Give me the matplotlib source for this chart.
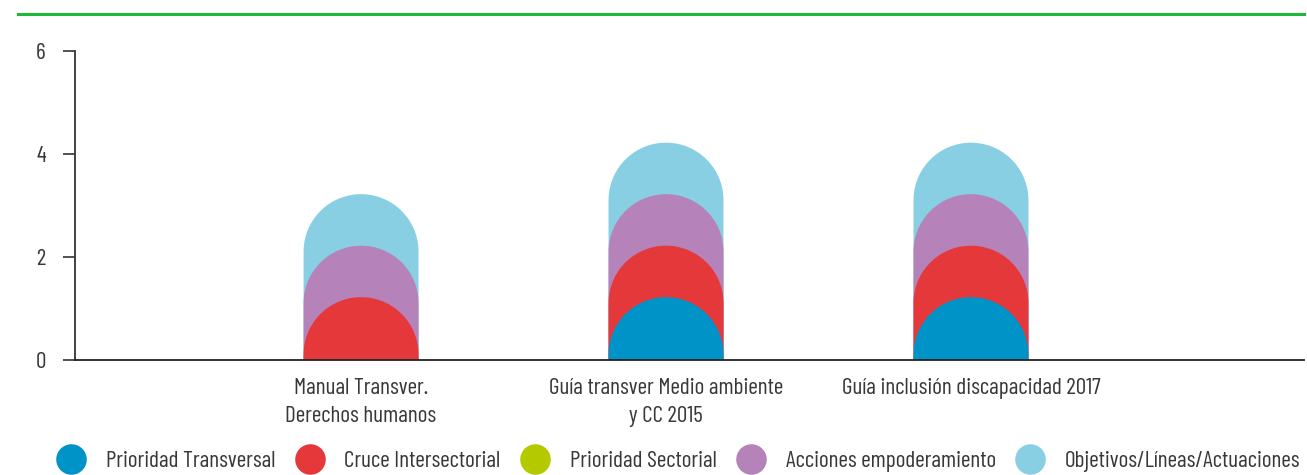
#!/usr/bin/python
# coding: utf-8
import numpy as np
import matplotlib
matplotlib.use("Agg")
import matplotlib.pyplot as plt
from matplotlib.patches import Polygon
from matplotlib.lines import Line2D

# categories and stacked values (one list per series)
categories = ["Manual Transver.\nDerechos humanos",
              "Guía transver Medio ambiente\ny CC 2015",
              "Guía inclusión discapacidad 2017"]
series_names = ["Prioridad Transversal", "Cruce Intersectorial", "Prioridad Sectorial",
                "Acciones empoderamiento", "Objetivos/Líneas/Actuaciones"]
prioridad_transversal = [0, 1, 1]
cruce_intersectorial = [1, 1, 1]
prioridad_sectorial = [0, 0, 0]
acciones_empoderamiento = [1, 1, 1]
objetivos_lineas = [1, 1, 1]
colors = ["#0093c7", "#e5383b", "#b5c900", "#b583b9", "#89cfe4"]

yticks = [0, 2, 4, 6]

plt.rcParams['font.family'] = ['Barlow Condensed', 'DejaVu Sans']
plt.rcParams['font.weight'] = 400
txt = "#383838"
fs = 16.8

fig = plt.figure(figsize=(13.07, 4.75), dpi=100)
ax = fig.add_axes([75/1307, 115/475, (1304-75)/1307, 309/475])

xmin, xmax = -0.938, 3.092
ymin, ymax = 0, 6
ax.set_xlim(xmin, xmax)
ax.set_ylim(ymin, ymax)

bar_w = 0.377
cap_extra = 0.22   # rounded cap sticks out a bit above the value

# pixel scale so the caps come out as real half circles
ax_w_px = (1304 - 75)
ax_h_px = 309
px_x = ax_w_px / (xmax - xmin)
px_y = ax_h_px / (ymax - ymin)
r_y = (bar_w / 2) * px_x / px_y

data = np.array([prioridad_transversal, cruce_intersectorial, prioridad_sectorial,
                 acciones_empoderamiento, objetivos_lineas], dtype=float)
cum = np.cumsum(data, axis=0)

t = np.linspace(0, np.pi, 80)
for i in range(len(categories)):
    # tallest first so the lower segments sit on top
    for s in range(len(series_names) - 1, -1, -1):
        if data[s, i] == 0:
            continue
        top = cum[s, i] + cap_extra
        yc = top - r_y
        xs = i + (bar_w / 2) * np.cos(t)
        ys = np.maximum(yc + r_y * np.sin(t), 0)
        pts = np.column_stack([np.r_[i + bar_w / 2, xs, i - bar_w / 2],
                               np.r_[0, ys, 0]])
        ax.add_patch(Polygon(pts, closed=True, facecolor=colors[s],
                             edgecolor='none', zorder=2))

for sp in ['top', 'right']:
    ax.spines[sp].set_visible(False)
ax.spines['left'].set_color("#333333")
ax.spines['bottom'].set_color("#222222")
ax.spines['left'].set_linewidth(1.3)
ax.spines['bottom'].set_linewidth(1.3)
ax.spines['bottom'].set_zorder(3)

ax.set_yticks(yticks)
ax.set_yticklabels([str(v) for v in yticks])
ax.tick_params(axis='y', length=9, width=1.2, color="#333333", pad=12,
               labelsize=fs, labelcolor=txt)
ax.set_xticks(range(len(categories)))
ax.set_xticklabels(categories, linespacing=1.45)
ax.tick_params(axis='x', length=0, pad=13, labelsize=fs, labelcolor=txt)

# green rule across the top
fig.add_artist(Line2D([18/1307, 1304/1307], [461/475, 461/475],
                      color="#1db83a", linewidth=2.2))

handles = [Line2D([], [], linestyle='none', marker='o', markersize=22,
                  markerfacecolor=c, markeredgecolor='none') for c in colors]
fig.legend(handles, series_names, loc='center left', ncol=5,
           bbox_to_anchor=(56/1307, 14/475), frameon=False, fontsize=fs,
           labelcolor=txt, handlelength=1.28, handletextpad=0.86,
           columnspacing=0.82, borderaxespad=0, borderpad=0)

plt.savefig("out.png", dpi=100)
